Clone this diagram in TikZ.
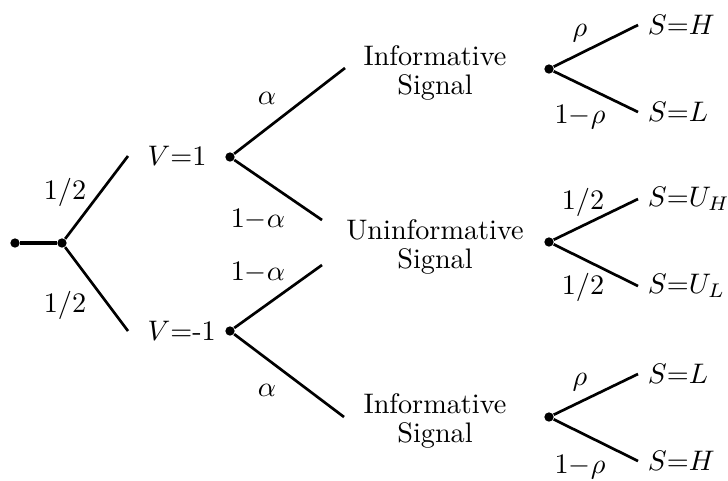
\documentclass[tikz,border=0pt]{standalone}
\usepackage{amsmath}
\usetikzlibrary{positioning}

\begin{document}
\begin{tikzpicture}[x=0.354pt, y=-0.354pt, node distance=0pt,
  every node/.style={font=\normalsize},
  bullet/.style={circle, fill, inner sep=0pt, minimum size=3.3pt},
  branch/.style={line width=0.95pt},
  prob/.style={inner sep=1pt},
  sig/.style={align=center, font=\fontsize{10}{10}\selectfont}]
  \useasboundingbox (0,0) rectangle (728,480);
  % nature draws the value
  \node[bullet] (root) at (15,243) {};
  \node[bullet] (n0) at (62,243) {};
  \coordinate (vhi) at (128,156);
  \coordinate (vlo) at (128,331);
  \node[right=3.4pt of vhi] (vone) {$V{=}1$};
  \node[right=3.4pt of vlo] (vmone) {$V{=}$-1};
  \draw[branch, line width=1.4pt] (root) -- (n0);
  \draw[branch] (n0) -- (vhi);
  \draw[branch] (n0) -- (vlo);
  \node[prob] (pa) at (65,192) {$1/2$};
  \node[prob] (pb) at (65,305) {$1/2$};
  % signal type
  \node[bullet] (d1) at (230,157) {};
  \node[bullet] (d2) at (230,331) {};
  \coordinate (e1) at (345,68);
  \coordinate (e2) at (322,220);
  \coordinate (e3) at (322,265);
  \coordinate (e4) at (344,417);
  \draw[branch] (d1) -- (e1);
  \draw[branch] (d1) -- (e2);
  \draw[branch] (d2) -- (e3);
  \draw[branch] (d2) -- (e4);
  \node[prob] (qa) at (267,98) {$\alpha$};
  \node[prob] (qb) at (258,220) {$1{-}\alpha$};
  \node[prob] (qc) at (258,273) {$1{-}\alpha$};
  \node[prob] (qd) at (267,390) {$\alpha$};
  \node[sig] (inf1) at (435,73) {Informative\\Signal};
  \node[sig] (uninf) at (435,247) {Uninformative\\Signal};
  \node[sig] (inf2) at (435,421) {Informative\\Signal};
  % realised signal
  \node[bullet] (r1) at (549,69) {};
  \node[bullet] (r2) at (549,242) {};
  \node[bullet] (r3) at (549,417) {};
  \coordinate (t1) at (638,25);
  \coordinate (t2) at (638,112);
  \coordinate (t3) at (638,199);
  \coordinate (t4) at (638,286);
  \coordinate (t5) at (638,374);
  \coordinate (t6) at (638,461);
  \draw[branch] (r1) -- (t1);
  \draw[branch] (r1) -- (t2);
  \draw[branch] (r2) -- (t3);
  \draw[branch] (r2) -- (t4);
  \draw[branch] (r3) -- (t5);
  \draw[branch] (r3) -- (t6);
  \node[right=of t1] (sh1) {$S{=}H$};
  \node[right=of t2] (sl1) {$S{=}L$};
  \node[right=of t3] (suh) {$S{=}U_H$};
  \node[right=of t4] (sul) {$S{=}U_L$};
  \node[right=of t5] (sl2) {$S{=}L$};
  \node[right=of t6] (sh2) {$S{=}H$};
  \node[prob] (ra) at (580,33) {$\rho$};
  \node[prob] (rb) at (580,117) {$1{-}\rho$};
  \node[prob] (rc) at (583,202) {$1/2$};
  \node[prob] (rd) at (583,287) {$1/2$};
  \node[prob] (re) at (580,382) {$\rho$};
  \node[prob] (rf) at (580,467) {$1{-}\rho$};
\end{tikzpicture}
\end{document}
